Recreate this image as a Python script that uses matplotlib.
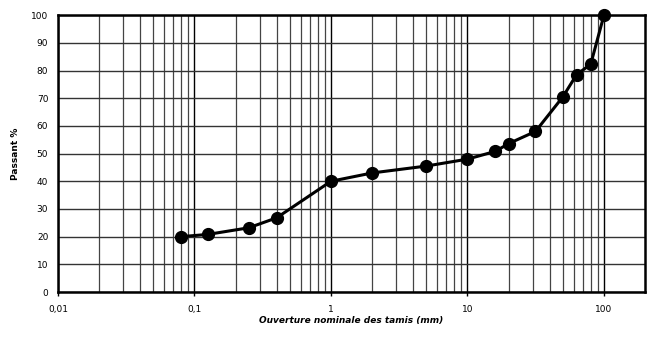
import matplotlib
matplotlib.use("Agg")
import matplotlib.pyplot as plt
from matplotlib.ticker import FixedLocator, FuncFormatter, NullFormatter

# sieve openings (mm) and percent passing
tamis = [0.08, 0.125, 0.25, 0.4, 1, 2, 5, 10, 16, 20, 31.5, 50, 63, 80, 100]
passant = [20, 20.8, 23.2, 26.8, 40, 43, 45.5, 48, 50.8, 53.6, 58, 70.5, 78.5, 82.3, 100]

x_ticks = [0.01, 0.1, 1, 10, 100]
x_labels = ['0,01', '0,1', '1', '10', '100']
y_ticks = list(range(0, 101, 10))

fig = plt.figure(figsize=(6.47, 3.37), dpi=100)
ax = fig.add_axes([0.0896, 0.1335, 0.9074, 0.8215])

ax.set_xscale('log')
ax.set_xlim(0.01, 200)
ax.set_ylim(0, 100)

# minor grid lines 2..9 per decade
minors = [m * 10.0 ** e for e in range(-2, 3) for m in range(2, 10)]
minors = [v for v in minors if v < 200]
ax.xaxis.set_major_locator(FixedLocator(x_ticks))
ax.xaxis.set_minor_locator(FixedLocator(minors))
ax.xaxis.set_major_formatter(FuncFormatter(lambda v, p: x_labels[x_ticks.index(v)] if v in x_ticks else ''))
ax.xaxis.set_minor_formatter(NullFormatter())
ax.set_yticks(y_ticks)

ax.grid(True, which='major', axis='x', color='black', lw=1.0)
ax.grid(True, which='major', axis='y', color='#333333', lw=1.0)
ax.grid(True, which='minor', axis='x', color='#444444', lw=0.9)
ax.set_axisbelow(True)

ax.plot(tamis, passant, color='black', lw=2.2, marker='o', ms=8.5, zorder=3, clip_on=False)

for s in ax.spines.values():
    s.set_linewidth(1.8)

ax.tick_params(axis='both', which='major', labelsize=6.5, width=1)
ax.tick_params(axis='x', which='major', length=3, pad=6)
ax.tick_params(axis='x', which='minor', length=0)
ax.tick_params(axis='y', length=0, pad=7)

ax.set_xlabel('Ouverture nominale des tamis (mm)', fontsize=6.5, fontweight='bold', style='italic', labelpad=2)
ax.set_ylabel('Passant %', fontsize=6.5, fontweight='bold')
ax.yaxis.set_label_coords(-0.064, 0.5)

fig.savefig('out.png', dpi=100)
